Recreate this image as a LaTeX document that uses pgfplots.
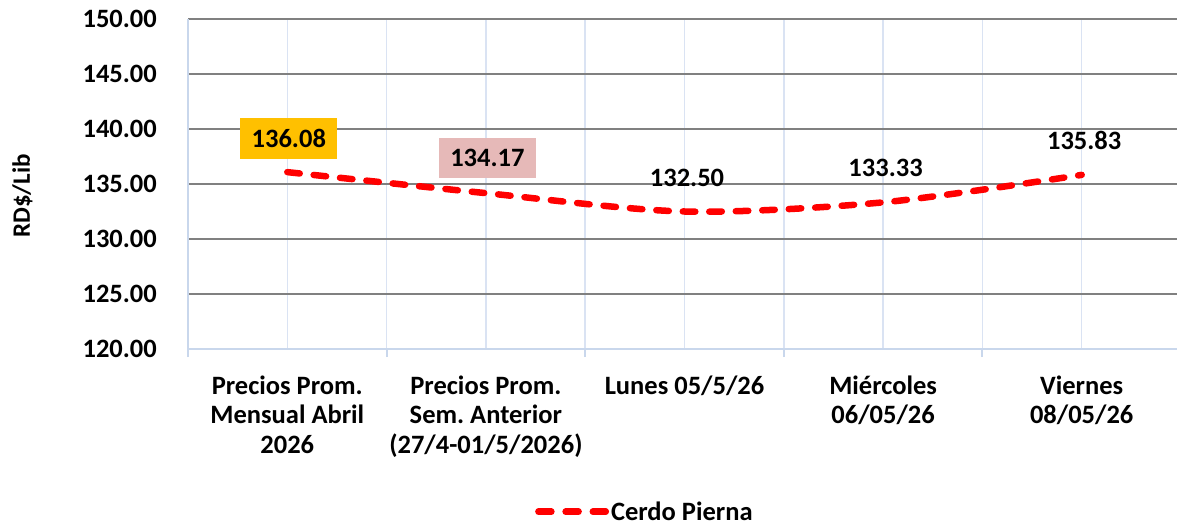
\documentclass[border=0pt]{standalone}
\usepackage{pgfplots}
\pgfplotsset{compat=1.18}
\usepackage{fontspec}
\setmainfont{Carlito}
\frenchspacing
\definecolor{ybox}{HTML}{FFC000}
\definecolor{pbox}{HTML}{E6B9B8}
\definecolor{hgrid}{HTML}{808080}
\definecolor{vgrid}{HTML}{DAE3F3}
\definecolor{axl}{HTML}{C9D7EC}
\newcommand{\lf}{\fontsize{26.5bp}{29.5bp}\selectfont\bfseries}
\begin{document}
\begin{tikzpicture}
\path[use as bounding box] (0,0) rectangle (1177bp,525bp);
\begin{axis}[
 at={(188bp,176bp)}, anchor=south west,
 scale only axis, width=993bp, height=330bp,
 xmin=-0.5, xmax=4.5, ymin=120, ymax=150,
 axis x line*=bottom, axis y line*=left,
 axis line style={draw=axl, line width=2bp},
 xtick={0,1,2,3,4},
 xticklabels={{\strut Precios Prom.\\Mensual Abril\\2026},{\strut Precios Prom.\\Sem. Anterior\\(27/4-01/5/2026)},{\strut Lunes 05/5/26},{\strut Miércoles\\06/05/26},{\strut Viernes\\08/05/26}},
 minor xtick={-0.5,0.5,1.5,2.5,3.5,4.5},
 ytick={120,125,...,150},
 xmajorgrids, xminorgrids, ymajorgrids,
 major x grid style={draw=vgrid, line width=1.5bp},
 minor x grid style={draw=vgrid, line width=1.5bp},
 major y grid style={draw=hgrid, line width=1.8bp},
 tick align=outside,
 major tick length=0pt,
 minor tick length=8bp,
 minor x tick style={draw=axl, line width=2bp},
 tick label style={font=\lf},
 yticklabel style={inner sep=0pt, anchor=east, xshift=-31bp},
 xticklabel style={align=center, inner sep=0pt, anchor=north, yshift=-24.6bp},
 /pgf/number format/fixed,
 /pgf/number format/fixed zerofill,
 /pgf/number format/precision=2,
 /pgf/number format/assume math mode=true,
 ylabel={RD\$/Lib},
 ylabel style={font=\fontsize{25bp}{29bp}\selectfont\bfseries, at={(axis description cs:-0.1667,0.4642)}, anchor=center},
 legend style={draw=none, fill=none, font=\lf, at={(axis description cs:0.3494,-0.493)}, anchor=west, inner sep=0pt, nodes={inner sep=0pt}, column sep=2bp},
 legend image code/.code={\draw[#1, dash pattern=on 13bp off 14.2bp] (3bp,0) -- (70.4bp,0);},
]
\addplot[red, line width=6.5bp, dash pattern=on 12.5bp off 14bp, line cap=round, smooth] coordinates {(0,136.08) (1,134.17) (2,132.50) (3,133.33) (4,135.83)};
\addlegendentry{Cerdo Pierna}
\addplot[draw=none, forget plot, nodes near coords={\lf\pgfmathprintnumber{\pgfplotspointmeta}}, every node near coord/.style={text=black, font=\lf, anchor=center, xshift=1.5bp, yshift=34bp, fill=ybox, minimum width=97bp, minimum height=41bp, inner sep=0pt}] coordinates {(0,136.08)};
\addplot[draw=none, forget plot, nodes near coords={\lf\pgfmathprintnumber{\pgfplotspointmeta}}, every node near coord/.style={text=black, font=\lf, anchor=center, xshift=1.5bp, yshift=35bp, fill=pbox, minimum width=97bp, minimum height=40bp, inner sep=0pt}] coordinates {(1,134.17)};
\addplot[draw=none, forget plot, nodes near coords={\lf\pgfmathprintnumber{\pgfplotspointmeta}}, every node near coord/.style={text=black, font=\lf, anchor=center, xshift=2.5bp, yshift=34bp, inner sep=0pt}] coordinates {(2,132.50) (3,133.33) (4,135.83)};
\end{axis}
\end{tikzpicture}
\end{document}
